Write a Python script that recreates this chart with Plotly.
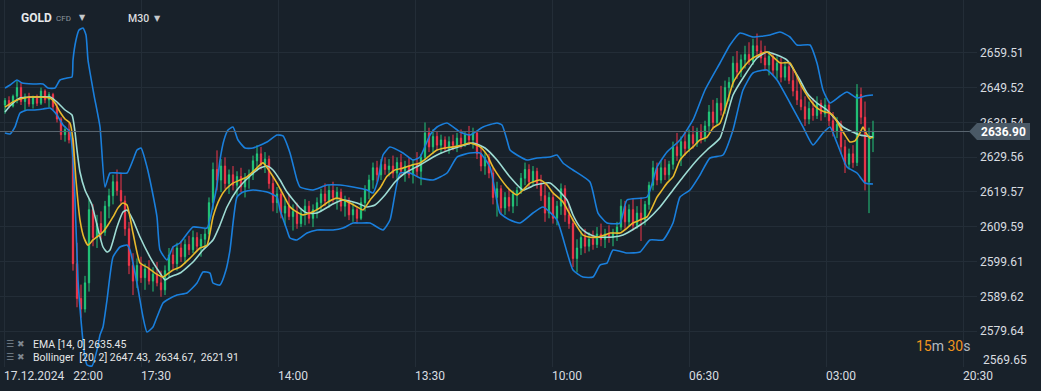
import plotly.graph_objects as go

# ---------------- data ----------------
opens = [
    2644.5, 2645.8, 2644.2, 2647.0, 2649.5, 2645.5, 2646.8, 2644.8, 2646.5, 2645.0,
    2648.5, 2646.0, 2647.5, 2644.0, 2640.5, 2636.0, 2637.5, 2634.5, 2599.0, 2589.0,
    2586.0, 2593.5, 2614.5, 2606.5, 2610.5, 2608.0, 2615.5, 2618.5, 2622.5, 2620.0,
    2617.0, 2609.0, 2598.5, 2594.0, 2598.5, 2595.0, 2597.5, 2594.0, 2596.0, 2593.5,
    2591.5, 2597.0, 2601.5, 2599.0, 2603.5, 2601.0, 2604.5, 2603.0, 2606.5, 2604.0,
    2606.0, 2607.5, 2616.5, 2626.0, 2623.0, 2627.0, 2622.0, 2624.5, 2621.5, 2624.0,
    2621.0, 2623.5, 2624.5, 2628.5, 2630.5, 2627.5, 2629.0, 2622.0, 2616.5, 2619.0,
    2613.5, 2615.5, 2612.5, 2614.0, 2610.5, 2613.5, 2615.5, 2612.0, 2614.5, 2616.5,
    2619.0, 2617.0, 2620.0, 2618.0, 2619.5, 2615.5, 2617.0, 2613.0, 2614.5, 2612.0,
    2616.5, 2620.0, 2623.0, 2626.5, 2624.5, 2627.5, 2626.0, 2627.0, 2625.0, 2628.0,
    2625.5, 2627.0, 2624.5, 2627.5, 2625.5, 2629.5, 2636.5, 2632.5, 2635.5, 2633.0,
    2634.5, 2632.0, 2634.0, 2633.0, 2635.0, 2633.5, 2636.0, 2634.5, 2636.5, 2630.5,
    2627.0, 2629.5, 2625.0, 2618.0, 2620.5, 2615.0, 2618.0, 2615.5, 2619.0, 2620.0,
    2623.5, 2626.0, 2622.5, 2625.5, 2622.0, 2618.5, 2613.5, 2618.0, 2612.0, 2615.5,
    2620.5, 2613.0, 2610.5, 2600.5, 2603.5, 2606.5, 2604.0, 2606.0, 2604.5, 2607.5,
    2606.0, 2607.5, 2606.5, 2608.0, 2609.5, 2615.5, 2611.0, 2614.5, 2610.0, 2613.5,
    2611.5, 2616.0, 2621.5, 2626.5, 2623.0, 2626.5, 2624.5, 2627.5, 2632.5, 2630.0,
    2634.0, 2632.0, 2636.0, 2633.5, 2637.0, 2635.0, 2638.5, 2642.5, 2639.5, 2645.0,
    2643.0, 2649.5, 2651.0, 2656.5, 2654.0, 2657.5, 2659.0, 2657.0, 2661.5, 2660.0,
    2658.0, 2656.0, 2658.5, 2654.5, 2656.5, 2652.5, 2655.5, 2651.5, 2648.5, 2646.0,
    2644.0, 2640.5, 2643.5, 2641.5, 2645.0, 2642.0, 2644.5, 2640.0, 2637.0, 2639.0,
    2632.5, 2627.5, 2630.5, 2628.0, 2647.5, 2641.0, 2622.5, 2635.0,
]
highs = [
    2646.5, 2647.0, 2647.5, 2651.5, 2650.8, 2647.8, 2648.0, 2647.2, 2647.5, 2649.5,
    2649.0, 2648.2, 2648.0, 2645.0, 2641.0, 2638.5, 2639.5, 2635.0, 2605.0, 2593.0,
    2595.5, 2617.5, 2616.0, 2613.0, 2614.0, 2617.0, 2620.5, 2624.5, 2626.0, 2625.0,
    2618.5, 2611.0, 2602.0, 2600.5, 2601.0, 2599.0, 2600.0, 2598.0, 2599.5, 2597.0,
    2598.5, 2603.5, 2604.0, 2605.0, 2605.5, 2606.0, 2607.0, 2608.5, 2608.0, 2607.5,
    2609.0, 2618.0, 2628.0, 2631.5, 2629.0, 2629.5, 2626.0, 2627.0, 2625.5, 2626.5,
    2625.0, 2626.0, 2630.0, 2633.0, 2632.5, 2631.0, 2630.0, 2624.0, 2621.0, 2620.5,
    2617.5, 2619.0, 2616.0, 2616.5, 2615.0, 2617.5, 2617.0, 2616.0, 2618.0, 2620.5,
    2622.0, 2621.5, 2622.5, 2621.0, 2620.5, 2618.5, 2618.0, 2616.5, 2615.5, 2618.0,
    2621.5, 2624.5, 2628.0, 2628.5, 2629.0, 2629.5, 2629.0, 2630.0, 2629.5, 2630.5,
    2628.5, 2629.5, 2629.0, 2631.0, 2630.5, 2639.5, 2638.0, 2637.5, 2637.0, 2636.0,
    2635.5, 2635.5, 2636.0, 2636.5, 2637.5, 2637.0, 2638.5, 2638.0, 2637.0, 2632.5,
    2631.0, 2630.5, 2626.5, 2622.5, 2621.5, 2619.5, 2620.5, 2620.0, 2621.0, 2625.0,
    2628.0, 2627.5, 2627.0, 2626.5, 2624.5, 2622.0, 2619.5, 2619.0, 2617.0, 2622.0,
    2621.5, 2616.0, 2612.0, 2606.0, 2608.5, 2609.0, 2608.0, 2608.5, 2609.5, 2610.5,
    2609.0, 2610.0, 2609.0, 2611.0, 2617.5, 2617.0, 2616.0, 2617.5, 2615.5, 2618.0,
    2617.0, 2622.5, 2628.5, 2628.0, 2628.5, 2629.0, 2628.5, 2634.0, 2636.5, 2635.5,
    2637.0, 2637.5, 2638.5, 2638.0, 2639.0, 2640.0, 2644.5, 2646.0, 2646.5, 2650.0,
    2651.5, 2652.5, 2658.5, 2660.0, 2659.0, 2661.5, 2662.5, 2663.5, 2665.0, 2663.0,
    2661.5, 2660.0, 2659.5, 2658.5, 2658.0, 2657.0, 2656.5, 2655.0, 2652.5, 2650.0,
    2647.0, 2645.5, 2646.5, 2647.0, 2646.0, 2646.5, 2645.5, 2642.5, 2641.0, 2640.0,
    2634.5, 2632.0, 2633.0, 2650.5, 2649.5, 2645.5, 2638.0, 2640.0,
]
lows = [
    2642.0, 2643.5, 2643.8, 2645.0, 2644.5, 2643.0, 2644.0, 2643.5, 2644.2, 2644.5,
    2645.0, 2643.8, 2643.0, 2639.5, 2634.5, 2634.0, 2633.5, 2597.0, 2586.5, 2583.5,
    2585.0, 2591.0, 2604.0, 2603.5, 2606.0, 2607.0, 2612.0, 2616.0, 2618.5, 2616.0,
    2607.0, 2596.0, 2590.0, 2592.0, 2593.5, 2591.5, 2593.0, 2591.0, 2592.5, 2589.5,
    2590.0, 2595.0, 2597.5, 2597.0, 2599.5, 2599.0, 2601.5, 2602.0, 2602.5, 2601.0,
    2603.5, 2606.0, 2614.5, 2620.0, 2619.5, 2620.5, 2619.0, 2620.0, 2618.5, 2619.5,
    2618.0, 2620.5, 2623.0, 2625.5, 2626.0, 2625.0, 2620.5, 2614.0, 2613.5, 2612.0,
    2610.0, 2611.5, 2608.5, 2609.0, 2609.5, 2610.0, 2610.5, 2609.5, 2612.0, 2614.0,
    2615.5, 2615.0, 2616.5, 2614.5, 2614.0, 2612.5, 2611.5, 2611.0, 2610.5, 2611.5,
    2614.0, 2617.5, 2620.5, 2622.5, 2623.0, 2624.5, 2624.0, 2623.5, 2623.0, 2624.0,
    2622.5, 2623.5, 2622.0, 2624.0, 2621.5, 2628.5, 2631.0, 2630.5, 2631.5, 2630.5,
    2631.0, 2630.5, 2631.5, 2631.0, 2632.0, 2632.5, 2633.0, 2632.0, 2629.0, 2625.5,
    2624.5, 2623.5, 2616.0, 2612.5, 2613.0, 2613.0, 2614.0, 2613.5, 2615.5, 2619.0,
    2621.5, 2621.0, 2621.5, 2620.5, 2617.0, 2611.0, 2612.0, 2610.5, 2610.0, 2613.0,
    2611.0, 2609.0, 2598.0, 2596.5, 2601.5, 2602.0, 2602.5, 2603.0, 2603.5, 2604.0,
    2603.5, 2605.0, 2604.0, 2605.5, 2608.5, 2609.0, 2609.5, 2608.5, 2609.0, 2605.5,
    2610.0, 2614.5, 2620.0, 2621.5, 2622.0, 2623.0, 2623.0, 2626.0, 2628.5, 2627.0,
    2630.0, 2631.0, 2632.0, 2632.5, 2633.5, 2634.0, 2636.5, 2637.5, 2638.5, 2641.5,
    2642.0, 2645.5, 2649.5, 2652.0, 2652.5, 2655.0, 2656.0, 2656.0, 2658.0, 2656.5,
    2654.5, 2653.0, 2653.0, 2652.0, 2651.0, 2651.5, 2650.5, 2647.0, 2644.5, 2643.0,
    2638.5, 2639.0, 2640.0, 2640.5, 2640.0, 2641.0, 2638.5, 2635.5, 2635.0, 2630.5,
    2625.0, 2626.0, 2626.5, 2627.0, 2639.0, 2620.0, 2613.5, 2631.0,
]
closes = [
    2645.8, 2644.2, 2647.0, 2649.5, 2645.5, 2646.8, 2644.8, 2646.5, 2645.0, 2648.5,
    2646.0, 2647.5, 2644.0, 2640.5, 2636.0, 2637.5, 2634.5, 2599.0, 2589.0, 2586.0,
    2593.5, 2614.5, 2606.5, 2610.5, 2608.0, 2615.5, 2618.5, 2622.5, 2620.0, 2617.0,
    2609.0, 2598.5, 2594.0, 2598.5, 2595.0, 2597.5, 2594.0, 2596.0, 2593.5, 2591.5,
    2597.0, 2601.5, 2599.0, 2603.5, 2601.0, 2604.5, 2603.0, 2606.5, 2604.0, 2606.0,
    2607.5, 2616.5, 2626.0, 2623.0, 2627.0, 2622.0, 2624.5, 2621.5, 2624.0, 2621.0,
    2623.5, 2624.5, 2628.5, 2630.5, 2627.5, 2629.0, 2622.0, 2616.5, 2619.0, 2613.5,
    2615.5, 2612.5, 2614.0, 2610.5, 2613.5, 2615.5, 2612.0, 2614.5, 2616.5, 2619.0,
    2617.0, 2620.0, 2618.0, 2619.5, 2615.5, 2617.0, 2613.0, 2614.5, 2612.0, 2616.5,
    2620.0, 2623.0, 2626.5, 2624.5, 2627.5, 2626.0, 2627.0, 2625.0, 2628.0, 2625.5,
    2627.0, 2624.5, 2627.5, 2625.5, 2629.5, 2636.5, 2632.5, 2635.5, 2633.0, 2634.5,
    2632.0, 2634.0, 2633.0, 2635.0, 2633.5, 2636.0, 2634.5, 2636.5, 2630.5, 2627.0,
    2629.5, 2625.0, 2618.0, 2620.5, 2615.0, 2618.0, 2615.5, 2619.0, 2620.0, 2623.5,
    2626.0, 2622.5, 2625.5, 2622.0, 2618.5, 2613.5, 2618.0, 2612.0, 2615.5, 2620.5,
    2613.0, 2610.5, 2600.5, 2603.5, 2606.5, 2604.0, 2606.0, 2604.5, 2607.5, 2606.0,
    2607.5, 2606.5, 2608.0, 2609.5, 2615.5, 2611.0, 2614.5, 2610.0, 2613.5, 2611.5,
    2616.0, 2621.5, 2626.5, 2623.0, 2626.5, 2624.5, 2627.5, 2632.5, 2630.0, 2634.0,
    2632.0, 2636.0, 2633.5, 2637.0, 2635.0, 2638.5, 2642.5, 2639.5, 2645.0, 2643.0,
    2649.5, 2651.0, 2656.5, 2654.0, 2657.5, 2659.0, 2657.0, 2661.5, 2660.0, 2658.0,
    2656.0, 2658.5, 2654.5, 2656.5, 2652.5, 2655.5, 2651.5, 2648.5, 2646.0, 2644.0,
    2640.5, 2643.5, 2641.5, 2645.0, 2642.0, 2644.5, 2640.0, 2637.0, 2639.0, 2632.5,
    2627.5, 2630.5, 2628.0, 2647.5, 2641.0, 2622.5, 2635.0, 2636.9,
]

# indicator lines (bar index, price)
ema_x = [0, 2, 3.75, 6.25, 8.75, 11.25, 12.5, 13.75, 15, 16.25, 17, 17.75, 18.75, 19.75, 20.75,
         22, 23.25, 24.5, 25.75, 27, 28.25, 29.5, 30.5, 32, 33.75, 35.5, 37.5, 39.5, 42, 43.75,
         46.25, 48.75, 50.5, 52, 53.75, 55.25, 57, 58.75, 60.5, 62.5, 64.5, 66.25, 68, 69.75,
         71.25, 73, 74.5, 76.25, 78.75, 80.75, 83, 84.75, 86.25, 88, 89.5, 91.25, 93.75, 95.5,
         97.5, 99.5, 101.75, 103.75, 105.75, 108, 110, 112, 114.25, 116.25, 118.75, 120.5, 122,
         123.75, 125.5, 126.75, 128, 129.5, 131.25, 133.75, 135.5, 137, 139.5, 142, 144.5,
         146.25, 148, 150, 151.25, 153.75, 155.5, 157, 158.75, 160.5, 161.75, 163, 164.25,
         165.5, 167, 168.75, 170.5, 172, 173.75, 175.5, 177, 178.75, 180.5, 182, 183.75,
         186.25, 188.25, 190.5, 192, 193.75, 196.25, 197.5, 198.75, 200, 201.25, 202.5,
         203.75, 205, 206.25, 207.5, 208.75, 210, 211.25, 212.5, 213.75, 214.5, 215.25,
         216.25, 217]
ema_vals = [2643.9, 2645.4, 2646.2, 2646.8, 2646.8, 2646.5, 2645.1, 2642.5, 2640.5, 2639.3,
            2634.5, 2623.0, 2611.5, 2606.4, 2604.3, 2605.8, 2606.9, 2608.1, 2610.1, 2612.4,
            2615.0, 2616.4, 2615.8, 2607.8, 2599.2, 2598.0, 2596.3, 2595.2, 2597.2, 2598.0,
            2600.6, 2603.5, 2604.3, 2612.4, 2617.8, 2620.4, 2622.1, 2623.0, 2623.9, 2625.9,
            2627.9, 2625.3, 2622.1, 2618.4, 2615.3, 2613.8, 2613.0, 2613.5, 2615.0, 2616.7,
            2617.8, 2617.2, 2616.4, 2615.3, 2614.4, 2617.2, 2620.7, 2624.1, 2625.9, 2626.4,
            2627.3, 2627.9, 2629.6, 2631.6, 2632.2, 2632.5, 2633.0, 2633.6, 2632.5, 2630.2,
            2626.7, 2623.6, 2621.0, 2619.6, 2618.7, 2620.1, 2622.1, 2623.0, 2621.6, 2619.3,
            2616.7, 2611.5, 2607.2, 2606.6, 2606.6, 2607.2, 2607.8, 2607.8, 2609.2, 2610.7,
            2611.5, 2612.4, 2615.0, 2618.1, 2620.1, 2622.1, 2623.9, 2628.7, 2631.0, 2632.5,
            2634.5, 2635.3, 2637.9, 2639.3, 2645.1, 2650.8, 2654.0, 2657.4, 2658.8, 2659.7,
            2658.3, 2656.6, 2656.6, 2654.0, 2650.8, 2648.2, 2646.0, 2644.2, 2643.1, 2642.5,
            2642.2, 2640.8, 2638.2, 2635.9, 2633.9, 2634.2, 2636.5, 2638.2, 2636.5, 2635.0,
            2635.3]

bb_mid_x = [0, 1.25, 3.75, 7, 11.25, 13, 15, 16.75, 17.5, 18, 18.75, 20, 21.75, 23, 24.5,
            25.5, 26.25, 28, 29.5, 30.5, 32, 33.75, 36.25, 38.75, 40, 41.25, 43.75, 47, 49.5,
            52, 53.75, 55.5, 58, 61.25, 63.75, 65.5, 67, 68.75, 70.5, 73.75, 75.5, 78, 82,
            84.5, 88, 90.5, 92.5, 95, 97.5, 100, 103.75, 108, 112.5, 117, 120, 123, 126.25,
            129.5, 132.5, 136.25, 140.5, 142, 143.75, 145.5, 148, 152, 154.5, 158, 160.5,
            163.75, 167, 169.5, 173, 175.5, 178.75, 182, 185, 188, 190.5, 195.5, 198.75,
            200.5, 203, 205.5, 209.5, 213.75, 217]
bb_mid = [2642.5, 2644.22, 2646.51, 2646.8, 2646.8, 2645.37, 2643.07, 2641.64, 2636.76,
          2631.6, 2625.29, 2620.13, 2615.83, 2610.09, 2603.78, 2602.35, 2602.92, 2609.52,
          2613.82, 2614.39, 2611.52, 2606.65, 2600.91, 2596.32, 2594.32, 2595.18, 2596.32,
          2599.48, 2602.92, 2605.79, 2610.09, 2615.25, 2620.13, 2624.14, 2626.44, 2627.01,
          2625.86, 2622.99, 2619.55, 2614.97, 2613.53, 2613.53, 2616.11, 2617.26, 2616.4,
          2615.25, 2615.83, 2618.69, 2622.42, 2625.0, 2627.3, 2630.17, 2632.17, 2633.61,
          2632.17, 2628.73, 2623.86, 2620.13, 2621.56, 2622.14, 2617.26, 2612.96, 2609.52,
          2607.79, 2606.65, 2606.65, 2607.22, 2609.52, 2611.52, 2615.25, 2620.13, 2623.86,
          2628.73, 2631.6, 2635.04, 2647.37, 2653.11, 2657.99, 2659.71, 2657.41, 2651.68,
          2647.95, 2645.08, 2643.07, 2638.2, 2635.9, 2635.33]

bb_up_x = [0, 1.25, 3, 4.25, 7, 9.5, 10.75, 12.5, 13.75, 15.5, 16.75, 17, 17.75, 18.5, 19.5,
           20.25, 20.75, 22.25, 23.75, 25, 26.25, 28.25, 30.5, 32, 33, 34, 35.5, 36.75, 38,
           38.75, 40.5, 42, 43.75, 47, 50.5, 52, 53, 53.75, 54.75, 55.75, 57, 58.25, 60, 62,
           65.5, 68, 69.5, 71.25, 73, 73.75, 77, 80.5, 83.75, 87, 90.5, 92, 93.25, 94.5,
           96.25, 99.5, 102, 103.75, 106.25, 108, 110.5, 113.75, 116.25, 119.5, 123, 124.25,
           125.5, 126.25, 128, 130.5, 133, 136.25, 138, 139.5, 142, 146.25, 148.25, 150.5,
           153.75, 155.5, 160.5, 163, 165.5, 168.75, 172, 175, 178.75, 181.25, 183.75, 187,
           191.25, 193.75, 196.25, 198, 201.25, 203, 204.5, 206.25, 208.75, 210.5, 213, 215,
           217]
bb_up = [2649.38, 2650.24, 2651.68, 2650.82, 2650.53, 2650.53, 2649.38, 2649.38, 2651.68,
         2652.25, 2652.54, 2657.41, 2663.15, 2666.02, 2666.59, 2664.58, 2657.41, 2647.37,
         2638.2, 2620.99, 2625.0, 2625.0, 2625.0, 2628.73, 2631.6, 2632.17, 2626.72, 2620.13,
         2612.38, 2602.92, 2600.05, 2603.78, 2604.93, 2609.52, 2609.23, 2615.83, 2621.56,
         2628.73, 2634.47, 2637.34, 2638.2, 2634.47, 2632.17, 2632.17, 2633.89, 2635.9,
         2635.62, 2630.74, 2622.99, 2620.99, 2620.13, 2621.56, 2621.56, 2620.99, 2620.13,
         2619.27, 2622.99, 2630.17, 2632.46, 2630.74, 2628.73, 2629.59, 2635.9, 2638.2,
         2639.34, 2636.76, 2635.9, 2638.2, 2639.34, 2638.77, 2634.47, 2631.6, 2630.17,
         2628.73, 2629.31, 2629.59, 2630.17, 2627.87, 2625.86, 2622.42, 2613.53, 2610.66,
         2610.66, 2617.26, 2618.12, 2626.72, 2631.03, 2634.47, 2640.21, 2648.81, 2656.55,
         2661.71, 2665.16, 2664.01, 2664.58, 2665.44, 2664.01, 2661.71, 2661.71, 2656.55,
         2648.81, 2645.08, 2647.09, 2648.23, 2646.52, 2647.09, 2647.37]

bb_low_x = [0, 1.25, 2.5, 3.75, 5.5, 7, 9.5, 11.25, 13, 14.5, 16.25, 17, 17.5, 18.25, 19,
            19.75, 20.5, 21.75, 23, 23.75, 24.5, 25.5, 27, 28.75, 30.5, 31.25, 33, 34.5, 35.5,
            37, 38, 39.5, 40.5, 43, 45.5, 48, 49.5, 51.25, 52, 53.75, 55.25, 56.25, 58, 59.5,
            62, 65.5, 68, 68.75, 70.5, 71.25, 73, 75.5, 78, 82, 84.5, 87, 88.75, 91.25, 94.5,
            96.25, 98.75, 101.25, 103.75, 107, 110.5, 113, 116.25, 118.75, 121.25, 123.75,
            126.25, 128.75, 132, 134.5, 138, 142, 144.5, 147, 148.75, 150.5, 152, 155.5,
            158.75, 161.25, 164.5, 167, 168.75, 171.25, 173.75, 176.25, 179.5, 182, 184.5,
            187, 190.5, 193, 196.25, 199.5, 202, 204.5, 206.25, 208, 210.5, 213, 215, 217]
bb_low = [2636.48, 2636.19, 2638.2, 2642.21, 2643.07, 2643.07, 2643.36, 2643.65, 2641.64,
          2638.77, 2636.76, 2628.73, 2617.26, 2594.32, 2582.85, 2574.24, 2569.94, 2569.65,
          2574.24, 2578.54, 2580.84, 2588.58, 2600.91, 2603.78, 2604.35, 2602.92, 2593.46,
          2583.71, 2579.4, 2580.84, 2583.71, 2587.72, 2588.58, 2590.01, 2590.59, 2593.46,
          2596.61, 2596.32, 2593.46, 2592.88, 2597.18, 2602.92, 2618.12, 2619.55, 2620.13,
          2619.55, 2618.12, 2614.39, 2608.66, 2606.36, 2605.79, 2607.79, 2608.66, 2608.66,
          2609.23, 2610.66, 2610.66, 2610.66, 2608.66, 2611.52, 2625.0, 2625.0, 2623.57,
          2622.99, 2625.0, 2629.59, 2630.74, 2630.74, 2626.72, 2613.53, 2611.52, 2610.66,
          2613.53, 2615.25, 2611.52, 2597.18, 2595.18, 2595.18, 2598.62, 2599.19, 2602.92,
          2602.06, 2602.35, 2605.79, 2605.79, 2610.66, 2618.12, 2620.13, 2624.43, 2629.31,
          2630.17, 2637.34, 2648.81, 2653.68, 2654.54, 2651.68, 2645.08, 2638.2, 2633.03,
          2636.48, 2638.2, 2633.61, 2626.72, 2625.0, 2622.13, 2621.85]

price_ticks = [2569.65, 2579.64, 2589.62, 2599.61, 2609.59, 2619.57, 2629.56, 2639.54,
               2649.52, 2659.51]
time_ticks = [-0.25, 34.0, 68.25, 102.5, 136.75, 171.0, 205.25, 239.5]
time_labels = ["17.12.2024\u00a0\u00a0 22:00", "17:30", "14:00", "13:30", "10:00",
               "06:30", "03:00", "20:30"]

symbol = "GOLD"
symbol_kind = "CFD"
timeframe = "M30"
ema_legend = "EMA [14, 0] 2635.45"
bb_legend = "Bollinger\u00a0\u00a0[20, 2] 2647.43,\u00a0\u00a02634.67,\u00a0\u00a02621.91"
last_price = closes[-1]

# ---------------- style ----------------
BG = "#18212a"
GRID = "#232d37"
GREEN = "#22c77a"
RED = "#f2364b"
BLUE = "#1a7fdc"
CYAN = "#9edcd4"
YELLOW = "#e8b92c"
TXT = "#d9dde0"
FONT = "Roboto, Arial, sans-serif"

W, H = 1041, 391
ML, MR, MT, MB = 0, 64, 0, 24
PW, PH = W - ML - MR, H - MT - MB
Y_RANGE = [2569.37, 2674.62]
X_RANGE = [-1.25, 243.0]


def px(x):
    return x / PW


def py(y):
    return 1 - y / PH


fig = go.Figure()
fig.add_trace(go.Candlestick(
    x=list(range(len(closes))), open=opens, high=highs, low=lows, close=closes,
    increasing=dict(line=dict(color=GREEN, width=1), fillcolor=GREEN),
    decreasing=dict(line=dict(color=RED, width=1), fillcolor=RED),
    whiskerwidth=0, hoverinfo="skip", showlegend=False,
))
for xs, ys, col in [(bb_up_x, bb_up, BLUE), (bb_low_x, bb_low, BLUE),
                    (bb_mid_x, bb_mid, CYAN), (ema_x, ema_vals, YELLOW)]:
    fig.add_trace(go.Scatter(
        x=xs, y=ys, mode="lines", hoverinfo="skip", showlegend=False,
        line=dict(color=col, width=1.6, shape="spline", smoothing=0.5),
    ))

half = 8.5 * (Y_RANGE[1] - Y_RANGE[0]) / PH
shapes = [
    dict(type="line", xref="paper", yref="y", x0=0, x1=px(970), y0=last_price, y1=last_price,
         line=dict(color="#5a6670", width=1), layer="above"),
    dict(type="path", xref="paper", yref="y", layer="above", fillcolor="#4a5966",
         line=dict(width=0),
         path=(f"M {px(969)},{last_price} L {px(977)},{last_price + half} "
               f"L {px(1030)},{last_price + half} L {px(1030)},{last_price - half} "
               f"L {px(977)},{last_price - half} Z")),
]

ann = []


def add(text, x, y, size=11, color=TXT, xanchor="left", weight="normal", yref="paper", family=FONT):
    ann.append(dict(text=text, x=x, y=y, xref="paper", yref=yref, showarrow=False,
                    xanchor=xanchor, yanchor="middle",
                    font=dict(family=family, size=size, color=color, weight=weight)))


add(f"<b>{symbol}</b>", px(19), py(18), size=12, color="#e6e8ea")
add(symbol_kind, px(54), py(19), size=8, color="#8e979f")
add("▼", px(77), py(17), size=8, color="#c4c8cc", family="DejaVu Sans")
add(timeframe, px(126), py(19), size=10.5, color="#d8dbde", weight=500)
add("▼", px(152), py(18), size=8, color="#c4c8cc", family="DejaVu Sans")
add("☰ ✖", px(4), py(344), size=9, color="#7f8891", family="DejaVu Sans")
add("☰ ✖", px(4), py(357), size=9, color="#7f8891", family="DejaVu Sans")
add(ema_legend, px(31), py(344), size=10.5, color="#e4e6e8")
add(bb_legend, px(31), py(357), size=10.5, color="#e4e6e8")
add("<span style='color:#f0941e'>15</span>m <span style='color:#f0941e'>30</span>s",
    px(914), py(346), size=14, color="#b3bac0")
# bottom price label sits just above its grid line (as in the reference)
add(f"{price_ticks[0]:.2f}", px(981), py(360), size=12, color=TXT)
ann.append(dict(text=f"<b>{last_price:.2f}</b>", x=px(1003), y=last_price, xref="paper",
                yref="y", showarrow=False, xanchor="center", yanchor="middle",
                font=dict(family=FONT, size=12, color="#ffffff")))

fig.update_layout(
    width=W, height=H, margin=dict(l=ML, r=MR, t=MT, b=MB),
    paper_bgcolor=BG, plot_bgcolor=BG, template="none",
    showlegend=False, hovermode=False, boxgap=0.55,
    font=dict(family=FONT, color=TXT, size=12),
    shapes=shapes, annotations=ann,
    xaxis=dict(range=X_RANGE, rangeslider=dict(visible=False), showgrid=True, gridcolor=GRID,
               gridwidth=1, zeroline=False, showline=False, ticks="",
               tickvals=time_ticks, ticktext=time_labels, ticklabelposition="outside right",
               tickfont=dict(family=FONT, size=12, color=TXT), fixedrange=True),
    yaxis=dict(range=Y_RANGE, side="right", showgrid=True, gridcolor=GRID, gridwidth=1,
               zeroline=False, showline=False, ticks="", ticklabelstandoff=2,
               tickvals=price_ticks,
               ticktext=[""] + [f"{v:.2f}" for v in price_ticks[1:]],
               tickfont=dict(family=FONT, size=12, color=TXT), fixedrange=True),
)

fig.write_html("out.html", config={"displayModeBar": False, "staticPlot": True},
               post_script="document.body.style.margin='0';"
               "document.body.style.background='" + BG + "';")
